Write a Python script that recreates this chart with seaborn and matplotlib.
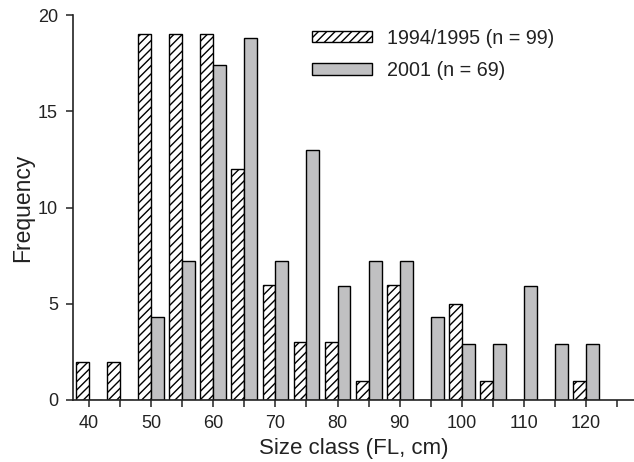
import numpy as np
import pandas as pd
import matplotlib
matplotlib.use("Agg")
import matplotlib.pyplot as plt
import seaborn as sns

size_classes = [40, 45, 50, 55, 60, 65, 70, 75, 80, 85, 90, 95, 100, 105, 110, 115, 120]
freq_1994 = [2, 2, 19, 19, 19, 12, 6, 3, 3, 1, 6, 0, 5, 1, 0, 0, 1]
freq_2001 = [0, 0, 4.3, 7.2, 17.4, 18.8, 7.2, 13.0, 5.9, 7.2, 7.2, 4.3, 2.9, 2.9, 5.9, 2.9, 2.9]
series_labels = ["1994/1995 (n = 99)", "2001 (n = 69)"]
y_ticks = [0, 5, 10, 15, 20]
x_label_classes = [40, 50, 60, 70, 80, 90, 100, 110, 120]

df = pd.DataFrame({
    "size": [str(s) for s in size_classes] * 2,
    "freq": freq_1994 + freq_2001,
    "series": [series_labels[0]] * len(size_classes) + [series_labels[1]] * len(size_classes),
})

sns.set_style("ticks")
plt.rcParams["font.family"] = ["Liberation Sans", "DejaVu Sans"]

fig = plt.figure(figsize=(6.34, 4.62), dpi=100)
ax = fig.add_axes([73.3 / 634, 62 / 462, (634 - 73.3) / 634, 385 / 462])

sns.barplot(data=df, x="size", y="freq", hue="series",
            order=[str(s) for s in size_classes], hue_order=series_labels,
            palette=["white", "#c0c0c2"], saturation=1, width=0.83,
            edgecolor="black", linewidth=1.0, legend=False, ax=ax)

for p in ax.containers[0].patches:
    p.set_hatch("////")
    p.set_facecolor("white")

ax.set_ylim(0, 20)
ax.set_yticks(y_ticks)
ax.set_xlim(-0.505, 17.54)
positions = list(range(len(size_classes) + 1))
labels = []
for i in positions:
    if i < len(size_classes) and size_classes[i] in x_label_classes:
        labels.append(str(size_classes[i]))
    else:
        labels.append("")
ax.set_xticks(positions)
ax.set_xticklabels(labels)

for side in ["top", "right"]:
    ax.spines[side].set_visible(False)
for side in ["left", "bottom"]:
    ax.spines[side].set_linewidth(1.2)
    ax.spines[side].set_color("#222222")
ax.tick_params(axis="both", direction="out", length=5, width=1.1, colors="#222222",
               labelsize=13, labelcolor="#222222", pad=6)

ax.set_xlabel("Size class (FL, cm)", fontsize=16, color="#222222", labelpad=4)
ax.set_ylabel("Frequency", fontsize=16.5, color="#222222", labelpad=3)

ax.legend(handles=[ax.containers[0], ax.containers[1]], labels=series_labels,
          loc="upper left", bbox_to_anchor=(312 / 634, 1 - 28.5 / 462),
          bbox_transform=fig.transFigure, frameon=False, borderpad=0,
          borderaxespad=0, handlelength=3.05, handleheight=0.55, handletextpad=0.75,
          labelspacing=0.7, fontsize=14.2, labelcolor="#222222")

fig.savefig("out.png", dpi=100)
